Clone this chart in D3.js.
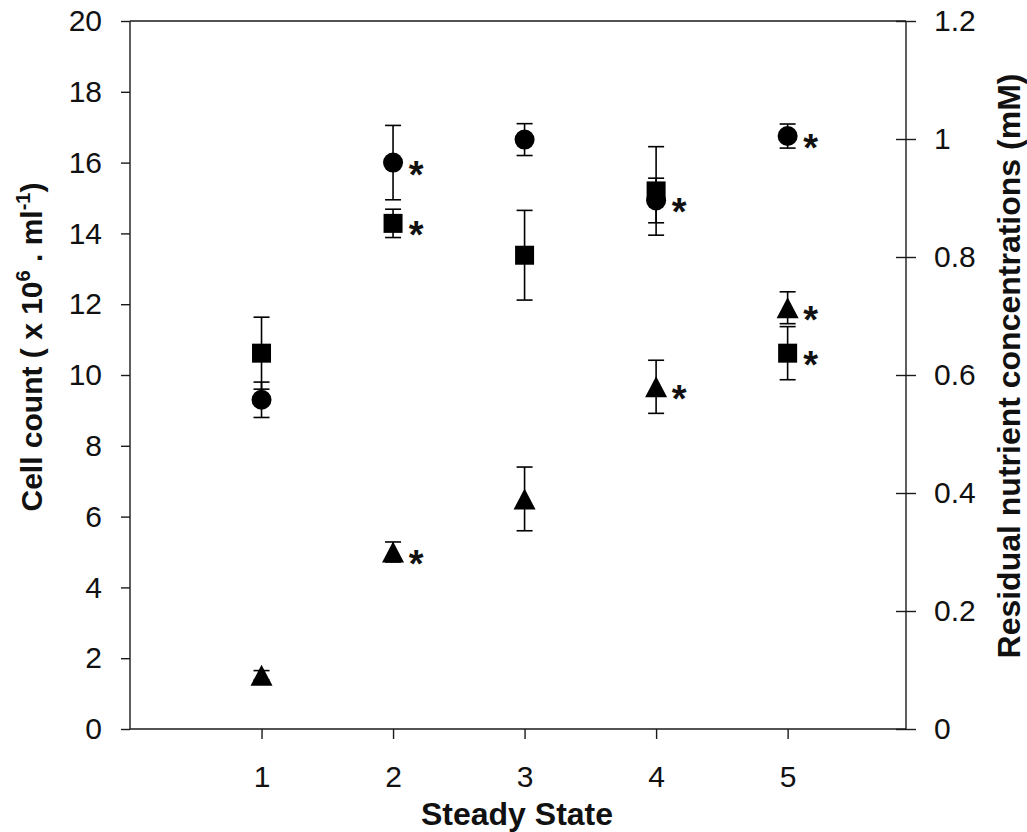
<!DOCTYPE html>
<html>
<head>
<meta charset="utf-8">
<script src="https://cdn.jsdelivr.net/npm/d3@7/dist/d3.min.js"></script>
<style>
  html, body { margin: 0; padding: 0; background: #fff; }
  svg text { font-family: "Liberation Sans", Arial, sans-serif; fill: #111; }
</style>
</head>
<body>
<svg id="chart" width="1027" height="832"></svg>
<script>
// ---- data ----
const states = [1, 2, 3, 4, 5];
// circles: cell count (x10^6 / ml), left axis
const cellCount    = [9.3, 16.0, 16.65, 14.93, 16.75];
const cellCountErr = [0.5, 1.05, 0.45, 0.63, 0.34];
const cellCountSig = [false, true, false, true, true];
// squares: residual nutrient A (mM), right axis
const nutrientA    = [0.637, 0.857, 0.803, 0.912, 0.637];
const nutrientAErr = [0.061, 0.024, 0.076, 0.075, 0.045];
const nutrientASig = [false, true, false, false, true];
// triangles: residual nutrient B (mM), right axis
const nutrientB    = [0.091, 0.300, 0.390, 0.580, 0.714];
const nutrientBErr = [0.008, 0.017, 0.054, 0.045, 0.027];
const nutrientBSig = [false, true, false, true, true];

const leftTicks  = [0, 2, 4, 6, 8, 10, 12, 14, 16, 18, 20];
const rightTicks = [0, 0.2, 0.4, 0.6, 0.8, 1, 1.2];
const xTitle = "Steady State";
const rightTitle = "Residual nutrient concentrations (mM)";

// ---- layout ----
const svg = d3.select("#chart");
const X0 = 130, X1 = 906, Y0 = 729, Y1 = 21;
const x  = d3.scaleLinear().domain([0, 5.9]).range([X0, X1]);
const yL = d3.scaleLinear().domain([0, 20]).range([Y0, Y1]);
const yR = d3.scaleLinear().domain([0, 1.2]).range([Y0, Y1]);
const ink = "#1a1a1a";

// frame lines
const frame = svg.append("g").attr("stroke", ink).attr("stroke-width", 1.4);
frame.append("line").attr("x1", X0).attr("x2", X0).attr("y1", Y1).attr("y2", Y0);
frame.append("line").attr("x1", X1).attr("x2", X1).attr("y1", Y1).attr("y2", Y0);
frame.append("line").attr("x1", X0).attr("x2", X1).attr("y1", Y1).attr("y2", Y1);
frame.append("line").attr("x1", X0).attr("x2", X1).attr("y1", Y0).attr("y2", Y0);

// left axis
const gL = svg.append("g").attr("transform", `translate(${X0},0)`)
  .call(d3.axisLeft(yL).tickValues(leftTicks).tickFormat(d3.format("d"))
        .tickSize(9).tickPadding(19));
// right axis
const gR = svg.append("g").attr("transform", `translate(${X1},0)`)
  .call(d3.axisRight(yR).tickValues(rightTicks).tickFormat(d => String(+d.toFixed(1)))
        .tickSize(10).tickPadding(18));
gR.selectAll(".tick line").attr("x1", -10).attr("x2", 10);
// bottom axis
const gB = svg.append("g").attr("transform", `translate(0,${Y0})`)
  .call(d3.axisBottom(x).tickValues(states).tickFormat(d3.format("d"))
        .tickSize(10).tickPadding(27));

[gL, gR, gB].forEach(g => {
  g.select(".domain").remove();
  g.selectAll(".tick line").attr("stroke", ink).attr("stroke-width", 1.4);
  g.selectAll(".tick text").attr("font-size", 30).attr("fill", "#111")
    .attr("font-family", '"Liberation Sans", Arial, sans-serif');
});

// axis titles
const leftT = svg.append("text")
  .attr("transform", "translate(42,347) rotate(-90)")
  .attr("text-anchor", "middle").attr("font-size", 30).attr("font-weight", "bold");
leftT.append("tspan").text("Cell count ( x 10");
leftT.append("tspan").attr("font-size", 20).attr("dy", -12).text("6");
leftT.append("tspan").attr("dy", 12).text(" . ml");
leftT.append("tspan").attr("font-size", 20).attr("dy", -12).text("-1");
leftT.append("tspan").attr("dy", 12).text(")");

svg.append("text")
  .attr("transform", "translate(1020,366) rotate(-90)")
  .attr("text-anchor", "middle").attr("font-size", 32).attr("font-weight", "bold")
  .text(rightTitle);

svg.append("text").attr("x", 517).attr("y", 825)
  .attr("text-anchor", "middle").attr("font-size", 32).attr("font-weight", "bold")
  .text(xTitle);

// ---- series ----
const capW = 16;
function drawSeries(vals, errs, sigs, yScale, shape) {
  const g = svg.append("g");
  const data = states.map((s, i) => ({ s, v: vals[i], e: errs[i], sig: sigs[i] }));
  const eb = g.append("g").attr("stroke", "#000").attr("stroke-width", 1.6);
  data.forEach(d => {
    const cx = x(d.s), lo = yScale(d.v - d.e), hi = yScale(d.v + d.e);
    eb.append("line").attr("x1", cx).attr("x2", cx).attr("y1", lo).attr("y2", hi);
    eb.append("line").attr("x1", cx - capW / 2).attr("x2", cx + capW / 2).attr("y1", lo).attr("y2", lo);
    eb.append("line").attr("x1", cx - capW / 2).attr("x2", cx + capW / 2).attr("y1", hi).attr("y2", hi);
  });
  data.forEach(d => {
    const cx = x(d.s), cy = yScale(d.v);
    if (shape === "circle") {
      g.append("circle").attr("cx", cx).attr("cy", cy).attr("r", 10).attr("fill", "#000");
    } else if (shape === "square") {
      g.append("rect").attr("x", cx - 9.5).attr("y", cy - 9.5).attr("width", 19).attr("height", 19).attr("fill", "#000");
    } else {
      const w = 22, h = 21;
      g.append("path").attr("d", `M${cx},${cy - h / 2}L${cx + w / 2},${cy + h / 2}L${cx - w / 2},${cy + h / 2}Z`)
        .attr("fill", "#000");
    }
    if (d.sig) {
      g.append("text").attr("x", cx + 23).attr("y", cy + 25)
        .attr("text-anchor", "middle")
        .attr("font-size", 38).attr("font-weight", "bold").attr("fill", "#000")
        .text("*");
    }
  });
}
drawSeries(nutrientB, nutrientBErr, nutrientBSig, yR, "triangle");
drawSeries(cellCount, cellCountErr, cellCountSig, yL, "circle");
drawSeries(nutrientA, nutrientAErr, nutrientASig, yR, "square");
</script>
</body>
</html>
